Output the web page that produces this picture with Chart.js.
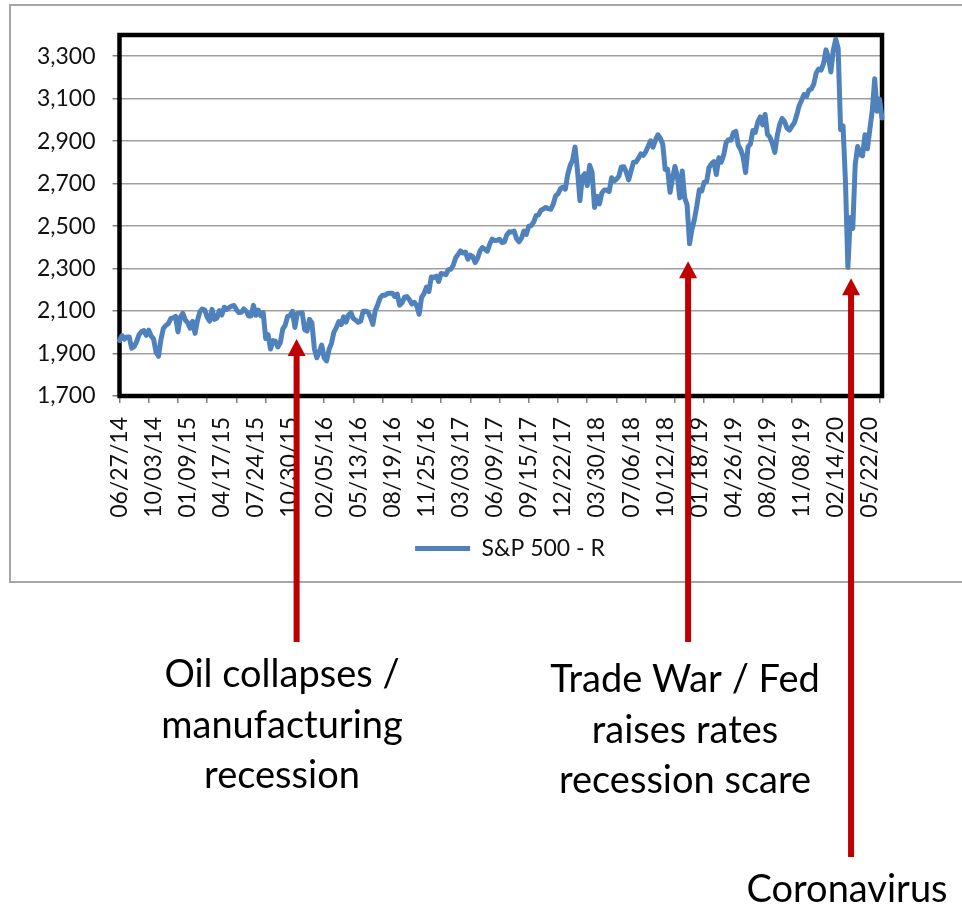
<!DOCTYPE html>
<html>
<head>
<meta charset="utf-8">
<title>S&amp;P 500 - R</title>
<script src="https://cdn.jsdelivr.net/npm/chart.js@4.4.1/dist/chart.umd.min.js"></script>
<style>
  html, body { margin: 0; padding: 0; background: #fff; overflow: hidden; }
  #wrap { position: relative; width: 962px; height: 905px; }
</style>
</head>
<body>
<div id="wrap"><canvas id="spChart" width="962" height="905"></canvas></div>
<script>
// weekly closes, one label every 14 weeks, one tick mark every 12
const tickLabels = ['06/27/14', '10/03/14', '01/09/15', '04/17/15', '07/24/15', '10/30/15',
    '02/05/16', '05/13/16', '08/19/16', '11/25/16', '03/03/17', '06/09/17', '09/15/17',
    '12/22/17', '03/30/18', '07/06/18', '10/12/18', '01/18/19', '04/26/19', '08/02/19',
    '11/08/19', '02/14/20', '05/22/20'];
const yTicks = [1700, 1900, 2100, 2300, 2500, 2700, 2900, 3100, 3300];
const LABEL_EVERY = 14;
const TICK_EVERY = 12;

const close2014 = [1961, 1985, 1968, 1978, 1978, 1925, 1932, 1955, 1988, 2003, 2008, 1986, 2010, 1983,
    1968, 1906, 1887, 1965, 2018, 2032, 2040, 2064, 2068, 2075, 2002, 2071, 2089];
const close2015 = [2058, 2045, 2019, 2052, 1995, 2055, 2097, 2110, 2105, 2071, 2053, 2108, 2061, 2067,
    2102, 2081, 2118, 2108, 2116, 2123, 2126, 2107, 2093, 2094, 2110, 2101, 2077, 2077, 2127, 2080,
    2104, 2078, 2092, 1971, 1989, 1921, 1961, 1958, 1931, 1951, 2015, 2033, 2075, 2079, 2099, 2023,
    2089, 2090, 2092, 2012, 2006, 2061, 2044];
const close2016 = [1922, 1880, 1907, 1940, 1880, 1865, 1918, 1948, 2000, 2022, 2050, 2036, 2073, 2048,
    2081, 2092, 2065, 2057, 2047, 2052, 2099, 2099, 2096, 2071, 2037, 2103, 2130, 2162, 2175, 2174,
    2183, 2184, 2184, 2169, 2180, 2128, 2139, 2165, 2168, 2154, 2133, 2141, 2126, 2085, 2164, 2182,
    2213, 2192, 2260, 2258, 2264, 2239];
const close2017 = [2277, 2275, 2271, 2295, 2297, 2316, 2351, 2367, 2383, 2373, 2378, 2344, 2363, 2356,
    2329, 2349, 2384, 2399, 2391, 2382, 2416, 2439, 2432, 2433, 2438, 2423, 2425, 2459, 2473, 2472,
    2477, 2441, 2426, 2443, 2477, 2461, 2500, 2502, 2519, 2549, 2553, 2575, 2581, 2588, 2582, 2579,
    2602, 2642, 2652, 2676, 2683, 2674];
const close2018 = [2743, 2786, 2810, 2873, 2762, 2620, 2732, 2747, 2691, 2787, 2752, 2588, 2641, 2604,
    2656, 2670, 2670, 2663, 2728, 2713, 2721, 2735, 2779, 2780, 2755, 2718, 2760, 2801, 2802, 2819,
    2840, 2833, 2850, 2875, 2902, 2872, 2905, 2930, 2914, 2886, 2767, 2768, 2659, 2723, 2781, 2736,
    2633, 2760, 2633, 2600, 2417, 2486];
const close2019 = [2532, 2596, 2671, 2665, 2707, 2708, 2776, 2793, 2804, 2743, 2822, 2801, 2834, 2893,
    2907, 2905, 2940, 2946, 2881, 2860, 2826, 2752, 2873, 2887, 2950, 2942, 2990, 3014, 2977, 3026,
    2932, 2919, 2889, 2847, 2926, 2979, 3007, 2992, 2962, 2952, 2970, 2986, 3023, 3067, 3093, 3120,
    3110, 3141, 3146, 3169, 3221, 3240];
const close2020 = [3235, 3265, 3330, 3295, 3226, 3328, 3380, 3338, 2954, 2972, 2711, 2305, 2541, 2489,
    2790, 2875, 2837, 2831, 2930, 2864, 2955, 3044, 3194, 3041, 3098, 3009];

const sp500 = [].concat(close2014, close2015, close2016, close2017, close2018, close2019, close2020);
const categories = sp500.map((v, i) => i % LABEL_EVERY === 0 ? tickLabels[i / LABEL_EVERY] : '');

// red call-outs under the chart: week index + level the arrow points at
const callouts = [
    { at: 72.7, tip: 1968, tail: 642, cx: 282, baseline: 687, lines: ['Oil collapses /', 'manufacturing', 'recession'] },
    { at: 233.4, tip: 2335, tail: 642, cx: 685, baseline: 692, lines: ['Trade War / Fed', 'raises rates', 'recession scare'] },
    { at: 300.3, tip: 2255, tail: 857, cx: 847, baseline: 902, lines: ['Coronavirus'] }
];

const FONT = 'Lato';

const decorations = {
    id: 'decorations',
    beforeDraw(chart) {
        const ctx = chart.ctx;
        ctx.save();
        ctx.fillStyle = '#fff';
        ctx.fillRect(0, 0, chart.width, chart.height);
        // outer chart frame
        ctx.strokeStyle = '#a6a6a6';
        ctx.lineWidth = 2;
        ctx.strokeRect(10, 5, 1000, 577);
        ctx.restore();
    },
    afterLayout(chart) {
        // centre the legend in the outer frame, not the canvas
        const lg = chart.legend;
        const d = 510 - (lg.left + lg.right) / 2;
        lg.left += d;
        lg.right += d;
    },
    beforeDatasetsDraw(chart) {
        const { ctx, chartArea: a } = chart;
        ctx.save();
        ctx.strokeStyle = '#000';
        ctx.lineWidth = 4.5;
        ctx.strokeRect(a.left, a.top, a.right - a.left, a.bottom - a.top);
        ctx.restore();
    },
    afterDraw(chart) {
        const ctx = chart.ctx;
        const xs = chart.scales.x;
        const ys = chart.scales.y;
        ctx.save();
        callouts.forEach(c => {
            const x = xs.getPixelForValue(c.at);
            const tipY = ys.getPixelForValue(c.tip);
            ctx.fillStyle = '#c00000';
            ctx.fillRect(x - 3, tipY + 16, 6, c.tail - tipY - 16);
            ctx.beginPath();
            ctx.moveTo(x, tipY);
            ctx.lineTo(x + 9, tipY + 17);
            ctx.lineTo(x - 9, tipY + 17);
            ctx.closePath();
            ctx.fill();

            ctx.fillStyle = '#000';
            ctx.font = '38px ' + FONT;
            ctx.textAlign = 'center';
            ctx.textBaseline = 'alphabetic';
            c.lines.forEach((t, i) => ctx.fillText(t, c.cx, c.baseline + i * 50.5));
        });
        ctx.restore();
    }
};

new Chart(document.getElementById('spChart'), {
    type: 'line',
    data: {
        labels: categories,
        datasets: [{
            label: 'S&P 500 - R',
            data: sp500,
            borderColor: '#4f81bd',
            backgroundColor: '#4f81bd',
            borderWidth: 5,
            borderJoinStyle: 'round',
            borderCapStyle: 'round',
            pointRadius: 0,
            tension: 0
        }]
    },
    options: {
        responsive: false,
        animation: false,
        devicePixelRatio: 1,
        layout: { padding: { top: 35, right: 80, bottom: 335, left: 0 } },
        plugins: {
            legend: {
                position: 'bottom',
                labels: {
                    usePointStyle: true,
                    pointStyle: 'line',
                    pointStyleWidth: 55,
                    padding: 20,
                    color: '#111',
                    font: { family: FONT, size: 23 }
                }
            },
            tooltip: { enabled: false }
        },
        scales: {
            x: {
                offset: false,
                afterFit: s => { s.height = 121; },
                border: { display: false },
                grid: {
                    drawOnChartArea: false,
                    tickLength: 7,
                    lineWidth: 1.5,
                    tickColor: c => c.index % TICK_EVERY === 0 ? '#808080' : 'rgba(0,0,0,0)'
                },
                ticks: {
                    autoSkip: false,
                    minRotation: 90,
                    maxRotation: 90,
                    padding: 14,
                    color: '#111',
                    font: { family: FONT, size: 23 }
                }
            },
            y: {
                min: 1700,
                max: 3400,
                afterFit: s => { s.width = 119.5; },
                afterBuildTicks: s => { s.ticks = yTicks.map(v => ({ value: v })); },
                border: { display: false },
                grid: { color: '#a0a0a0', lineWidth: 1.5, tickLength: 7, tickColor: '#808080' },
                ticks: {
                    padding: 17,
                    color: '#111',
                    font: { family: FONT, size: 23 }
                }
            }
        }
    },
    plugins: [decorations]
});
</script>
</body>
</html>
